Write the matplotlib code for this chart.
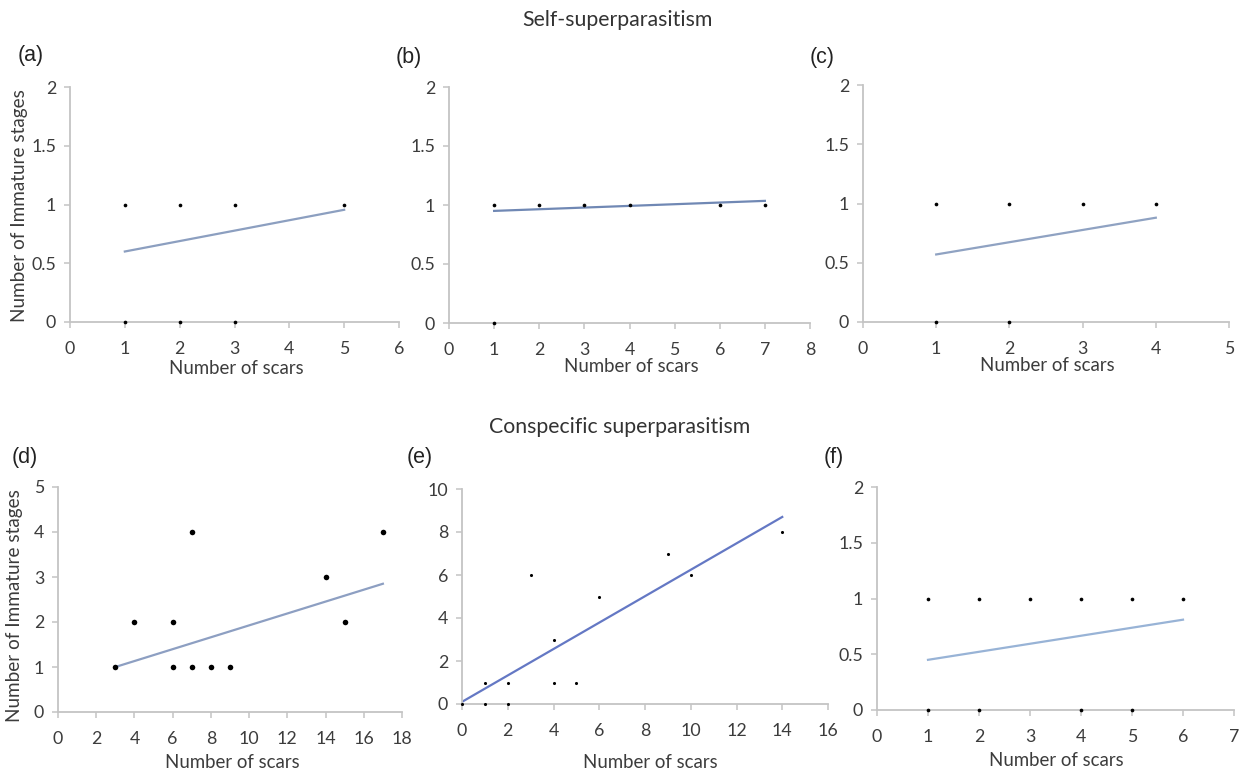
import matplotlib
matplotlib.use("Agg")
import matplotlib.pyplot as plt

plt.rcParams['font.family'] = ['Lato', 'DejaVu Sans']

# ------------------------------
# DATA
# ------------------------------

# (a) self-superparasitism
a_x = [1, 2, 3, 5, 1, 2, 3]
a_y = [1, 1, 1, 1, 0, 0, 0]
a_trend_x = [1, 5]
a_trend_y = [0.60, 0.955]

# (b)
b_x = [1, 2, 3, 4, 6, 7, 1]
b_y = [1, 1, 1, 1, 1, 1, 0]
b_trend_x = [1, 7]
b_trend_y = [0.95, 1.035]

# (c)
c_x = [1, 2, 3, 4, 1, 2]
c_y = [1, 1, 1, 1, 0, 0]
c_trend_x = [1, 4]
c_trend_y = [0.57, 0.88]

# (d) conspecific superparasitism
d_x = [3, 4, 6, 6, 7, 7, 8, 9, 14, 15, 17]
d_y = [1, 2, 2, 1, 4, 1, 1, 1, 3, 2, 4]
d_trend_x = [3, 17]
d_trend_y = [1.0, 2.85]

# (e)
e_x = [0, 1, 1, 2, 2, 3, 4, 4, 5, 6, 9, 10, 14]
e_y = [0, 1, 0, 1, 0, 6, 3, 1, 1, 5, 7, 6, 8]
e_trend_x = [0, 14]
e_trend_y = [0.1, 8.7]

# (f)
f_x = [1, 2, 3, 4, 5, 6, 1, 2, 4, 5]
f_y = [1, 1, 1, 1, 1, 1, 0, 0, 0, 0]
f_trend_x = [1, 6]
f_trend_y = [0.45, 0.81]

# axis limits / ticks
a_xticks = list(range(0, 7))
b_xticks = list(range(0, 9))
c_xticks = list(range(0, 6))
d_xticks = list(range(0, 19, 2))
e_xticks = list(range(0, 17, 2))
f_xticks = list(range(0, 8))
half_yticks = [0, 0.5, 1, 1.5, 2]
half_labels = ['0', '0.5', '1', '1.5', '2']
d_yticks = [0, 1, 2, 3, 4, 5]
e_yticks = [0, 2, 4, 6, 8, 10]

TXT = '#3c3c3c'
W, H = 1242, 773
fig = plt.figure(figsize=(W / 100, H / 100), dpi=100)


def px_axes(x0, x1, y_top, y_bot):
    return fig.add_axes([x0 / W, 1 - y_bot / H, (x1 - x0) / W, (y_bot - y_top) / H])


def style(ax, xticks, yticks, ylabels=None):
    for s in ['top', 'right']:
        ax.spines[s].set_visible(False)
    for s in ['left', 'bottom']:
        ax.spines[s].set_color('#c4c4c4')
        ax.spines[s].set_linewidth(1.3)
    ax.set_xlim(xticks[0], xticks[-1])
    ax.set_ylim(yticks[0], yticks[-1])
    ax.set_xticks(xticks)
    ax.set_yticks(yticks)
    if ylabels is not None:
        ax.set_yticklabels(ylabels)
    ax.tick_params(axis='both', colors='#c4c4c4', labelcolor=TXT,
                   labelsize=12.8, length=4, width=1.1, direction='out')
    ax.tick_params(axis='x', pad=10)
    ax.tick_params(axis='y', pad=6)
    ax.patch.set_alpha(0)


panels = [
    # axes pixels, data, trend, ticks, trend color, marker size
    ((70, 399, 87, 322), a_x, a_y, a_trend_x, a_trend_y, a_xticks, half_yticks, half_labels, '#8c9fc0', 7),
    ((449, 810, 87, 323), b_x, b_y, b_trend_x, b_trend_y, b_xticks, half_yticks, half_labels, '#7088b4', 7),
    ((863, 1229, 85, 322), c_x, c_y, c_trend_x, c_trend_y, c_xticks, half_yticks, half_labels, '#8fa2c2', 7),
    ((58, 402, 487, 712), d_x, d_y, d_trend_x, d_trend_y, d_xticks, d_yticks, None, '#8d9fc2', 16),
    ((462, 828, 489, 704), e_x, e_y, e_trend_x, e_trend_y, e_xticks, e_yticks, None, '#6478c4', 5),
    ((877, 1234, 487, 710), f_x, f_y, f_trend_x, f_trend_y, f_xticks, half_yticks, half_labels, '#98b3d6', 7),
]

for box, xs, ys, tx, ty, xt, yt, yl, tcol, ms in panels:
    ax = px_axes(*box)
    style(ax, xt, yt, yl)
    ax.plot(tx, ty, color=tcol, lw=1.6, zorder=2)
    ax.scatter(xs, ys, s=ms, color='black', zorder=3, clip_on=False, linewidths=0)

# x labels
for cx, cy in [(236, 368), (631, 366), (1047, 365), (232, 762), (650, 763), (1056, 761)]:
    fig.text(cx / W, 1 - cy / H, 'Number of scars', ha='center', va='center',
             fontsize=13.4, color=TXT)

# y labels
for cx, cy in [(20, 206), (15, 606)]:
    fig.text(cx / W, 1 - cy / H, 'Number of Immature stages', ha='center', va='center',
             rotation=90, fontsize=13.6, color=TXT)

# panel letters
for lab, cx, cy in [('(a)', 31, 55), ('(b)', 409, 58), ('(c)', 822, 58),
                    ('(d)', 25, 458), ('(e)', 420, 457), ('(f)', 834, 457)]:
    fig.text(cx / W, 1 - cy / H, lab, ha='center', va='center', fontsize=15.5,
             color='#222222', family=['Liberation Sans', 'DejaVu Sans'])

# section titles
fig.text(617 / W, 1 - 20 / H, 'Self-superparasitism', ha='center', va='center',
         fontsize=15.3, color='#333333')
fig.text(620 / W, 1 - 427 / H, 'Conspecific superparasitism', ha='center', va='center',
         fontsize=15.3, color='#333333')

fig.savefig('out.png', dpi=100)
